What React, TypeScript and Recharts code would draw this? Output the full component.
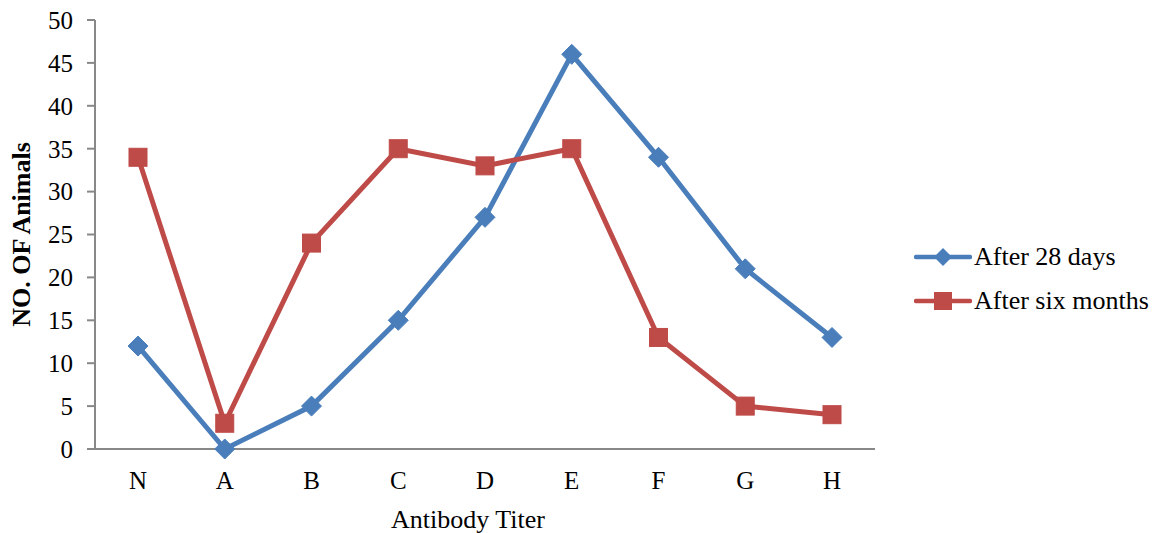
import React from 'react';
import { LineChart, Line, XAxis, YAxis, Legend } from 'recharts';

const categories = ['N', 'A', 'B', 'C', 'D', 'E', 'F', 'G', 'H'];
const after28Days = [12, 0, 5, 15, 27, 46, 34, 21, 13];
const afterSixMonths = [34, 3, 24, 35, 33, 35, 13, 5, 4];
const yTicks = [0, 5, 10, 15, 20, 25, 30, 35, 40, 45, 50];

const seriesNames = ['After 28 days', 'After six months'];
const BLUE = '#4A7EBB';
const RED = '#BE4B48';
const FONT = '"Liberation Serif", "Times New Roman", serif';
const FS = 25;
const FS_L = 26;

const data = categories.map((c, i) => ({
  cat: c,
  a: after28Days[i],
  b: afterSixMonths[i],
}));

const Diamond = (props: any) => {
  const { cx, cy } = props;
  if (cx == null || cy == null) return null;
  const r = 10;
  return (
    <path
      d={`M${cx},${cy - r}L${cx + r},${cy}L${cx},${cy + r}L${cx - r},${cy}Z`}
      fill={BLUE}
      stroke={BLUE}
      strokeWidth={1}
    />
  );
};

const Square = (props: any) => {
  const { cx, cy } = props;
  if (cx == null || cy == null) return null;
  const r = 9;
  return <rect x={cx - r} y={cy - r} width={2 * r} height={2 * r} fill={RED} stroke={RED} strokeWidth={1} />;
};

const LegendContent = () => (
  <div style={{ fontFamily: FONT, fontSize: FS_L, color: '#000', whiteSpace: 'nowrap', width: 260 }}>
    {[0, 1].map((i) => (
      <div key={i} style={{ display: 'flex', alignItems: 'center', height: 44 }}>
        <svg width={58} height={24} style={{ marginRight: 2, flexShrink: 0 }}>
          <line x1={2} y1={12} x2={56} y2={12} stroke={i === 0 ? BLUE : RED} strokeWidth={4.5} strokeLinecap="round" />
          {i === 0 ? (
            <path d="M29,3L38,12L29,21L20,12Z" fill={BLUE} />
          ) : (
            <rect x={20} y={3} width={18} height={18} fill={RED} />
          )}
        </svg>
        <span>{seriesNames[i]}</span>
      </div>
    ))}
  </div>
);

export default function App() {
  return (
    <div style={{ position: 'absolute', left: 0, top: 0, width: 1161, height: 533, background: '#fff' }}>
      <LineChart
        width={1161}
        height={533}
        data={data}
        margin={{ top: 20, right: 286, bottom: 0, left: 0 }}
        style={{ fontFamily: FONT }}
      >
        <XAxis
          dataKey="cat"
          stroke="#888"
          strokeWidth={2}
          tickLine={false}
          tickSize={0}
          tickMargin={22}
          padding={{ left: 43, right: 43 }}
          tick={{ fill: '#000', fontSize: FS, fontFamily: FONT }}
          label={{ value: 'Antibody Titer', position: 'insideBottom', offset: 5, dx: -17, fill: '#000', fontSize: FS_L, fontFamily: FONT }}
          height={84}
        />
        <YAxis
          domain={[0, 50]}
          ticks={yTicks}
          interval={0}
          width={95}
          stroke="#888"
          strokeWidth={2}
          tickSize={8}
          tickMargin={14}
          tick={{ fill: '#000', fontSize: FS, fontFamily: FONT }}
          label={{
            value: 'NO. OF Animals',
            angle: -90,
            position: 'insideLeft',
            offset: 21,
            style: { textAnchor: 'middle', fontWeight: 'bold', fontSize: FS_L, fill: '#000', fontFamily: FONT },
          }}
        />
        <Legend
          content={<LegendContent />}
          wrapperStyle={{ left: 914, top: 235, width: 0, height: 0, overflow: 'visible' }}
        />
        <Line
          dataKey="a"
          name={seriesNames[0]}
          stroke={BLUE}
          strokeWidth={5}
          dot={<Diamond />}
          activeDot={false}
          isAnimationActive={false}
        />
        <Line
          dataKey="b"
          name={seriesNames[1]}
          stroke={RED}
          strokeWidth={5}
          dot={<Square />}
          activeDot={false}
          isAnimationActive={false}
        />
      </LineChart>
    </div>
  );
}
